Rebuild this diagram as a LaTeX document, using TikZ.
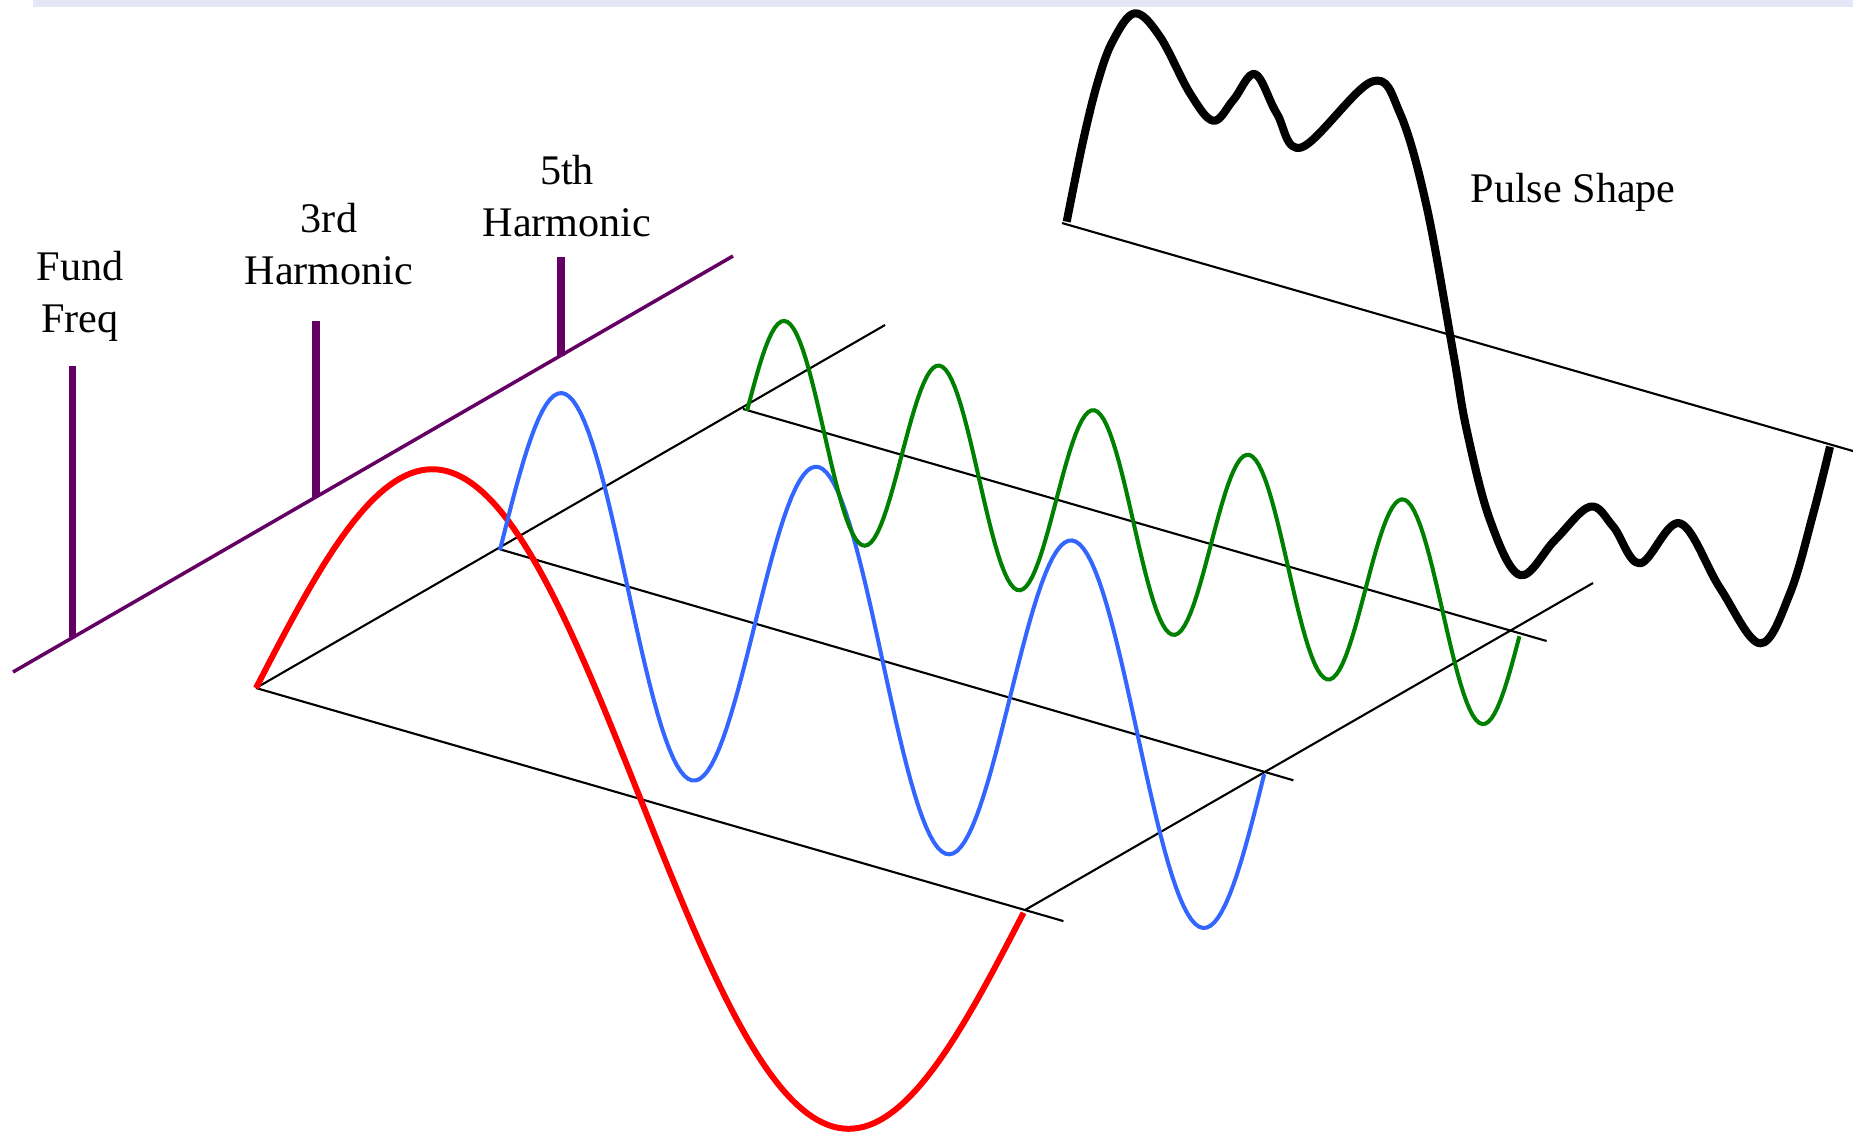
\documentclass[tikz,border=0pt]{standalone}
\usepackage{fontspec}
\setmainfont{Liberation Serif}
\usepackage{tikz}
\usetikzlibrary{calc}
\definecolor{specPurple}{RGB}{100,0,100}
\definecolor{waveBlue}{RGB}{51,102,255}
\definecolor{waveGreen}{RGB}{0,128,0}
\definecolor{bandGray}{RGB}{230,231,246}

\begin{document}
\begin{tikzpicture}[x=0.1mm, y=-0.1mm,
        every node/.style={font=\fontsize{12}{14.6}\selectfont, align=center, inner sep=0pt},
        axisline/.style={specPurple, line width=1pt},
        specbar/.style={specPurple, line width=2pt},
        guide/.style={black, line width=0.6pt},
        fundwave/.style={red, line width=1.7pt},
        thirdwave/.style={waveBlue, line width=1.15pt},
        fifthwave/.style={waveGreen, line width=1.15pt},
        pulsewave/.style={black, line width=2.3pt, line join=round}]
        \useasboundingbox (0,0) rectangle (1853,1132);
        \fill[bandGray] (33,0) rectangle (1853,7);

        \coordinate (ax0) at (13,672);
        \coordinate (ax1) at (733,256);
        \coordinate (fundBase) at (72.5,637);
        \coordinate (thirdBase) at (316,497);
        \coordinate (fifthBase) at (561,356);
        \draw[axisline] (ax0) -- (ax1);
        \draw[specbar] (fundBase) -- (72.5,366);
        \draw[specbar] (thirdBase) -- (316,321);
        \draw[specbar] (fifthBase) -- (561,257);

        \node[anchor=north] (fundLbl) at (80,251) {Fund\\Freq};
        \node[anchor=north] (thirdLbl) at (329,203) {3rd\\Harmonic};
        \node[anchor=north] (fifthLbl) at (567,155) {5th\\Harmonic};
        \node[anchor=base west] (pulseLbl) at (1470,202) {Pulse Shape};

        \coordinate (r0) at (256,688);
        \coordinate (r1) at (1025,910);
        \coordinate (b0) at (499,549);
        \coordinate (b1) at (1265,772);
        \coordinate (g0) at (743,409);
        \coordinate (g1) at (1512,631);
        \coordinate (d1) at (885,325);
        \coordinate (d2) at (1593,583);
        \coordinate (p0) at (1062,223);
        \coordinate (p1) at (1853,451);

        \draw[guide] (r0) -- (d1);
        \draw[guide] (r1) -- (d2);
        \draw[guide] (r0) -- ($(r0)!1.05!(r1)$);
        \draw[guide] (b0) -- ($(b0)!1.037!(b1)$);
        \draw[guide] (g0) -- ($(g0)!1.045!(g1)$);
        \draw[guide] (p0) -- (p1);

        \draw[fundwave] plot[domain=0:1, samples=150, variable=\t]
            ({256+769*\t}, {688+222*\t-272*sin(360*\t)});
        \draw[thirdwave] plot[domain=0:1, samples=200, variable=\t]
            ({500+765*\t}, {550+221*\t-175*sin(1080*\t)});
        \draw[fifthwave] plot[domain=0:1, samples=250, variable=\t]
            ({747+773*\t}, {411+223*\t-101*sin(1800*\t)});

        \draw[pulsewave] plot[smooth, tension=0.6] coordinates {
            (1066.7,221.7) (1083.3,140) (1098.3,80) (1113.3,40) (1135,13.3)
            (1160,36.7) (1190,93.3) (1213.3,120.7) (1233.3,100) (1255,74)
            (1276.7,113.3) (1301.7,147.3) (1371.7,81.7)
            (1400,113.3) (1426.7,206.7) (1453.3,353.3) (1466.7,430) (1490,520)
            (1520,575) (1555,540) (1590,506.7) (1613.3,526.7)
            (1640,563.3) (1680,523.3) (1720,588)
            (1760,643.3) (1790,593.3) (1813.3,513.3) (1830,446.7)};
    \end{tikzpicture}
\end{document}
